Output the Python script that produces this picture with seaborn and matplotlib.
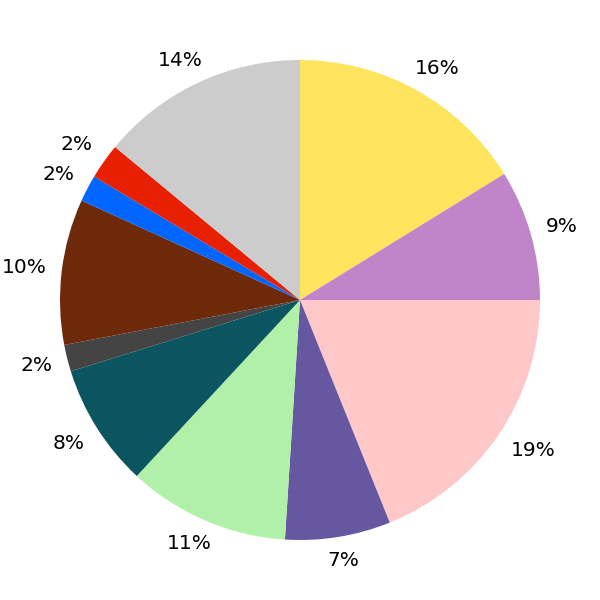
import matplotlib
matplotlib.use("Agg")
import matplotlib.pyplot as plt
import numpy as np
import seaborn as sns

# slice shares (percent), clockwise from 12 o'clock
shares = [16.2, 8.8, 18.9, 7.1, 10.9, 8.3, 1.8, 9.8, 1.8, 2.4, 14.0]
colors = ["#FFE45E", "#C084C8", "#FFC8C8", "#6658A0", "#B0F0A8", "#0A5560",
          "#444444", "#6E280A", "#0066FF", "#E62000", "#CCCCCC"]

sns.set_style("white")
plt.rcParams["font.family"] = ["DejaVu Sans"]

fig = plt.figure(figsize=(6, 6), dpi=100)
ax = fig.add_axes([0, 0, 1, 1])
wedges, texts, autotexts = ax.pie(
    shares, colors=colors, startangle=90, counterclock=False,
    autopct="%.0f%%", pctdistance=1.12, radius=1.0,
    wedgeprops={"linewidth": 0, "edgecolor": "none"},
    textprops={"fontsize": 14.5, "color": "black"})
ax.set_xlim(-1.25, 1.25)
ax.set_ylim(-1.25, 1.25)
ax.set_aspect("equal")
ax.axis("off")

# anchor labels just outside the rim and push the text box outward
fig.canvas.draw()
renderer = fig.canvas.get_renderer()
ppu = ax.transData.transform((1, 0))[0] - ax.transData.transform((0, 0))[0]
anchor = 255 / ppu
hh = 9 / ppu
for w, t in zip(wedges, autotexts):
    ang = np.deg2rad((w.theta1 + w.theta2) / 2)
    c, s = np.cos(ang), np.sin(ang)
    hw = t.get_window_extent(renderer).width / 2 / ppu
    x = anchor * c + hw * np.clip(1.2 * c, -1, 1)
    y = anchor * s + hh * np.clip(1.6 * s, -1, 1)
    t.set_position((x, y))

fig.savefig("out.png", dpi=100)
